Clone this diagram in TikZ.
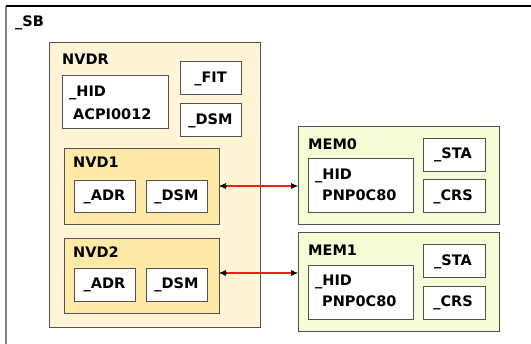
\documentclass[tikz,border=0pt]{standalone}
\usepackage{fontspec}
\setmainfont{DejaVu Sans}
\usetikzlibrary{arrows.meta}
\definecolor{nvdrfill}{HTML}{FFF4D6}
\definecolor{nvdfill}{HTML}{FFE9A6}
\definecolor{memfill}{HTML}{F6FCD6}
\definecolor{boxline}{HTML}{505050}
\definecolor{linkred}{HTML}{FF1A1A}
\tikzset{
  region/.style={draw=boxline, line width=1pt},
  leaf/.style={draw=boxline, line width=1pt, fill=white},
  lbl/.style={font=\bfseries\fontsize{14.5}{15}\selectfont, anchor=base west, inner sep=0pt},
  clbl/.style={lbl, anchor=base},
  linktip/.style={draw=black, fill=black, line width=0.6pt, -{Latex[length=7pt,width=6pt]}},
  linkline/.style={draw=linkred, line width=1.3pt, shorten <=5pt, shorten >=5pt}
}
\begin{document}
\begin{tikzpicture}[x=1pt,y=-1pt]
\useasboundingbox (0,0) rectangle (531,344);
% _SB scope outline
\draw[gray, line width=1.5pt] (6,6) -- (6,344);
\draw[black, line width=1.2pt] (6,6) -- (531,6);
\node[lbl] (sb) at (15,27) {\_SB};

% NVDR device
\draw[region, fill=nvdrfill] (49,43) rectangle (260,328);
\node[lbl] (nvdr) at (62,65) {NVDR};
\draw[leaf] (62,76) rectangle (168,129);
\node[lbl] (nvdrhid) at (69,97) {\_HID};
\node[lbl] (nvdrid) at (73,120) {ACPI0012};
\draw[leaf] (180,62) rectangle (241,95);
\node[clbl] (fit) at (210.5,83) {\_FIT};
\draw[leaf] (180,104) rectangle (241,137);
\node[clbl] (nvdrdsm) at (210.5,125) {\_DSM};

% NVD1
\draw[region, fill=nvdfill] (64,149) rectangle (219,225);
\coordinate (nvd1r) at (219,186);
\node[lbl] (nvd1) at (73,168) {NVD1};
\draw[leaf] (74,181) rectangle (135,213);
\node[clbl] (adr1) at (104.5,201) {\_ADR};
\draw[leaf] (146,181) rectangle (207,213);
\node[clbl] (dsm1) at (176.5,201) {\_DSM};

% NVD2
\draw[region, fill=nvdfill] (64,239) rectangle (219,314);
\coordinate (nvd2r) at (219,273);
\node[lbl] (nvd2) at (73,258) {NVD2};
\draw[leaf] (74,269) rectangle (135,302);
\node[clbl] (adr2) at (104.5,289) {\_ADR};
\draw[leaf] (146,269) rectangle (207,302);
\node[clbl] (dsm2) at (176.5,289) {\_DSM};

% MEM0
\draw[region, fill=memfill] (298,127) rectangle (499,225);
\coordinate (mem0l) at (298,186);
\node[lbl] (mem0) at (308,150) {MEM0};
\draw[leaf] (308,159) rectangle (413,213);
\node[lbl] (mem0hid) at (315,180) {\_HID};
\node[lbl] (mem0id) at (322,201) {PNP0C80};
\draw[leaf] (423,139) rectangle (485,172);
\node[clbl] (sta0) at (453,159) {\_STA};
\draw[leaf] (423,180) rectangle (485,213);
\node[clbl] (crs0) at (453,201) {\_CRS};

% MEM1
\draw[region, fill=memfill] (298,233) rectangle (499,332);
\coordinate (mem1l) at (298,273);
\node[lbl] (mem1) at (308,256) {MEM1};
\draw[leaf] (308,266) rectangle (413,320);
\node[lbl] (mem1hid) at (315,286) {\_HID};
\node[lbl] (mem1id) at (322,307) {PNP0C80};
\draw[leaf] (423,245) rectangle (485,278);
\node[clbl] (sta1) at (453,266) {\_STA};
\draw[leaf] (423,287) rectangle (485,320);
\node[clbl] (crs1) at (453,307) {\_CRS};

% links between NVDIMM devices and memory devices: red line, black heads
\draw[linkline] (nvd1r) -- (mem0l);
\draw[linktip] (nvd1r) ++(7,0) -- (nvd1r);
\draw[linktip] (mem0l) ++(-7,0) -- (mem0l);
\draw[linkline] (nvd2r) -- (mem1l);
\draw[linktip] (nvd2r) ++(7,0) -- (nvd2r);
\draw[linktip] (mem1l) ++(-7,0) -- (mem1l);
\end{tikzpicture}
\end{document}
